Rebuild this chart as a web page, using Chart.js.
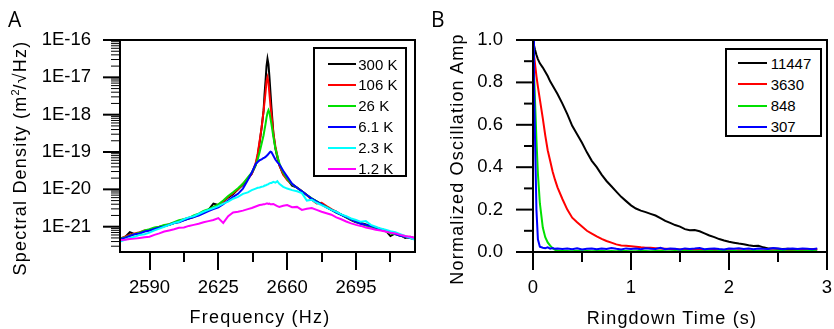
<!DOCTYPE html>
<html><head><meta charset="utf-8">
<script src="https://cdn.jsdelivr.net/npm/chart.js@4.4.1/dist/chart.umd.min.js"></script>
<style>
html,body{margin:0;padding:0;background:#fff;}
#wrap{position:relative;width:834px;height:329px;overflow:hidden;font-family:'Liberation Sans',Arial,sans-serif;color:#000;background:#fff;}
canvas{position:absolute;top:0;}
.ttl{position:absolute;font-size:18px;line-height:1;letter-spacing:1.2px;white-space:nowrap;}
.panel{position:absolute;font-family:'Open Sans',sans-serif;font-size:21px;line-height:1;}
.legend{position:absolute;border:2px solid #000;background:#fff;box-sizing:border-box;font-size:15px;}
.legend .row{display:flex;align-items:center;position:absolute;height:20px;}
.legend .sw{display:inline-block;height:2px;}
.legend .tx{line-height:1;white-space:nowrap;}
.sup{font-size:11px;position:relative;top:-7px;letter-spacing:0;}
</style>
</head><body>
<div id="wrap">
  <canvas id="cA" width="420" height="329" style="left:0;width:420px;height:329px"></canvas>
  <canvas id="cB" width="414" height="329" style="left:420px;width:414px;height:329px"></canvas>
  <div class="panel" style="left:8px;top:8.5px">A</div>
  <div class="panel" style="left:431px;top:8.5px">B</div>
  <div class="ttl" style="left:20px;top:157.5px;transform:translate(-50%,-50%) rotate(-90deg)">Spectral Density (m<span class="sup">2</span>/√Hz)</div>
  <div class="ttl" style="left:260px;top:308px;transform:translateX(-50%)">Frequency (Hz)</div>
  <div class="ttl" style="left:456.7px;top:159px;transform:translate(-50%,-50%) rotate(-90deg)">Normalized Oscillation Amp</div>
  <div class="ttl" style="left:672px;top:309px;transform:translateX(-50%)">Ringdown Time (s)</div>
  <div id="legA" class="legend" style="left:313px;top:47px;width:94px;height:130px"></div>
  <div id="legB" class="legend" style="left:724.5px;top:47.5px;width:97px;height:89px"></div>
</div>
<script>
// ---------------- Panel A data: spectral density vs frequency ----------------
const freqHz = [2575, 2577.5, 2580, 2582.5, 2585, 2587.5, 2590, 2592.5, 2595, 2597.5, 2600, 2602.5, 2605, 2607.5, 2610, 2612.5, 2615, 2617.5, 2620, 2622.5, 2625, 2627.5, 2630, 2632.5, 2635, 2637.5, 2640,
  2642, 2644, 2645, 2646, 2647, 2648, 2648.5, 2649, 2649.5, 2650, 2650.5, 2651, 2651.5, 2652, 2653, 2654, 2655, 2656, 2658, 2660,
  2662.5, 2665, 2667.5, 2670, 2672.5, 2675, 2677.5, 2680, 2682.5, 2685, 2687.5, 2690, 2692.5, 2695, 2697.5, 2700, 2702.5, 2705, 2707.5, 2710, 2712.5, 2715, 2717.5, 2720, 2722.5, 2725];

const psd300K = [4.9e-22, 5.25e-22, 7.1e-22, 6.3e-22, 6.8e-22, 7.6e-22, 8.1e-22, 8.9e-22, 9.5e-22, 1.05e-21, 1.12e-21, 1.26e-21, 1.35e-21, 1.51e-21, 1.66e-21, 1.82e-21, 2.14e-21, 2.4e-21, 2.82e-21, 4.17e-21, 3.8e-21, 4.68e-21, 6.03e-21, 7.41e-21, 1e-20, 1.32e-20, 1.91e-20,
  2.63e-20, 4.47e-20, 7.94e-20, 1.78e-19, 4.47e-19, 1.26e-18, 3.55e-18, 7.94e-18, 2.0e-17, 3.16e-17, 2.24e-17, 1e-17, 3.98e-18, 1.58e-18, 3.16e-19, 1.26e-19, 7.08e-20, 4.47e-20, 2.51e-20, 1.91e-20,
  1.26e-20, 1.12e-20, 8.91e-21, 7.08e-21, 5.62e-21, 4.79e-21, 3.98e-21, 3.39e-21, 2.82e-21, 2.51e-21, 2.09e-21, 1.78e-21, 1.51e-21, 1.32e-21, 1.26e-21, 1.15e-21, 1.05e-21, 9.55e-22, 8.71e-22, 7.94e-22, 5.62e-22, 6.61e-22, 6.03e-22, 5.01e-22, 5.37e-22, 4.9e-22];

const psd106K = [4.68e-22, 5.37e-22, 6.03e-22, 6.61e-22, 7.08e-22, 7.94e-22, 8.32e-22, 9.12e-22, 1e-21, 1.07e-21, 1.17e-21, 1.26e-21, 1.41e-21, 1.58e-21, 1.74e-21, 1.91e-21, 2.09e-21, 2.4e-21, 2.82e-21, 3.31e-21, 3.8e-21, 4.68e-21, 6.31e-21, 7.94e-21, 1e-20, 1.41e-20, 1.91e-20,
  2.63e-20, 5.01e-20, 8.91e-20, 2.0e-19, 4.47e-19, 1.26e-18, 2.24e-18, 3.98e-18, 7.94e-18, 1e-17, 7.08e-18, 3.55e-18, 1.78e-18, 1e-18, 3.16e-19, 1.41e-19, 7.94e-20, 4.47e-20, 2.51e-20, 1.78e-20,
  1.38e-20, 1.12e-20, 8.91e-21, 7.08e-21, 5.25e-21, 4.17e-21, 4.37e-21, 3.55e-21, 2.95e-21, 2.51e-21, 2.09e-21, 1.82e-21, 1.58e-21, 1.38e-21, 1.2e-21, 1.1e-21, 1e-21, 9.33e-22, 8.32e-22, 7.59e-22, 7.08e-22, 6.31e-22, 5.75e-22, 5.37e-22, 5.01e-22, 4.68e-22];

const psd26K = [4.79e-22, 5.13e-22, 5.75e-22, 6.31e-22, 6.92e-22, 7.94e-22, 8.51e-22, 9.55e-22, 1e-21, 1.12e-21, 1.17e-21, 1.32e-21, 1.48e-21, 1.58e-21, 1.7e-21, 2.0e-21, 2.24e-21, 2.63e-21, 2.95e-21, 3.39e-21, 3.98e-21, 5.01e-21, 6.61e-21, 8.32e-21, 1.07e-20, 1.41e-20, 2.09e-20,
  2.82e-20, 4.47e-20, 6.31e-20, 1e-19, 1.66e-19, 2.82e-19, 3.98e-19, 5.62e-19, 8.32e-19, 1.12e-18, 1.32e-18, 1.12e-18, 7.94e-19, 5.62e-19, 2.51e-19, 1.26e-19, 7.94e-20, 5.01e-20, 2.82e-20, 1.91e-20,
  1.38e-20, 1.1e-20, 8.91e-21, 7.08e-21, 5.75e-21, 4.79e-21, 3.98e-21, 3.39e-21, 2.82e-21, 2.4e-21, 2.09e-21, 1.78e-21, 1.58e-21, 1.35e-21, 1.2e-21, 1.07e-21, 1e-21, 8.91e-22, 8.32e-22, 7.59e-22, 6.61e-22, 6.31e-22, 5.75e-22, 5.37e-22, 5.01e-22, 4.68e-22];

const psd6K = [4.68e-22, 5.01e-22, 5.62e-22, 6.31e-22, 6.61e-22, 7.41e-22, 7.94e-22, 8.71e-22, 9.55e-22, 1.02e-21, 1.12e-21, 1.26e-21, 1.32e-21, 1.48e-21, 1.66e-21, 1.82e-21, 2.0e-21, 2.29e-21, 2.63e-21, 2.95e-21, 3.31e-21, 3.98e-21, 5.01e-21, 6.31e-21, 7.59e-21, 1.05e-20, 1.78e-20,
  2.82e-20, 4.79e-20, 5.37e-20, 6.03e-20, 6.31e-20, 6.92e-20, 7.08e-20, 7.41e-20, 7.76e-20, 8.32e-20, 8.91e-20, 9.55e-20, 1.02e-19, 1e-19, 7.94e-20, 6.31e-20, 5.37e-20, 4.68e-20, 3.16e-20, 2.19e-20,
  1.41e-20, 1.1e-20, 8.91e-21, 7.08e-21, 5.62e-21, 4.68e-21, 3.98e-21, 3.31e-21, 2.82e-21, 2.4e-21, 2.09e-21, 1.82e-21, 1.58e-21, 1.35e-21, 1.2e-21, 1.12e-21, 1.05e-21, 9.55e-22, 8.51e-22, 7.94e-22, 7.08e-22, 6.31e-22, 5.75e-22, 5.37e-22, 5.01e-22, 4.79e-22];

const psd2K = [3.98e-22, 4.47e-22, 5.01e-22, 5.37e-22, 6.03e-22, 6.31e-22, 6.92e-22, 7.94e-22, 8.91e-22, 1e-21, 1.12e-21, 1.26e-21, 1.35e-21, 1.58e-21, 1.78e-21, 1.91e-21, 2.19e-21, 2.51e-21, 2.82e-21, 3.16e-21, 3.55e-21, 4.17e-21, 4.68e-21, 5.62e-21, 6.31e-21, 7.59e-21, 8.32e-21,
  9.55e-21, 1.05e-20, 1.1e-20, 1.12e-20, 1.17e-20, 1.2e-20, 1.26e-20, 1.26e-20, 1.32e-20, 1.35e-20, 1.38e-20, 1.45e-20, 1.48e-20, 1.48e-20, 1.58e-20, 1.51e-20, 1.66e-20, 1.41e-20, 1.17e-20, 1.05e-20,
  9.55e-21, 8.91e-21, 7.94e-21, 5.01e-21, 5.25e-21, 4.37e-21, 3.8e-21, 3.31e-21, 2.82e-21, 2.51e-21, 2.14e-21, 1.91e-21, 1.66e-21, 1.51e-21, 1.35e-21, 1.41e-21, 1.12e-21, 1e-21, 8.91e-22, 8.32e-22, 7.59e-22, 7.08e-22, 6.31e-22, 5.62e-22, 5.01e-22, 4.47e-22];

const psd1K = [4.37e-22, 4.47e-22, 4.68e-22, 4.79e-22, 5.01e-22, 5.25e-22, 5.37e-22, 6.03e-22, 6.61e-22, 7.41e-22, 7.94e-22, 8.51e-22, 9.33e-22, 9.55e-22, 1.05e-21, 1.12e-21, 1.2e-21, 1.32e-21, 1.41e-21, 1.51e-21, 1.7e-21, 1.26e-21, 1.91e-21, 2.4e-21, 2.51e-21, 2.69e-21, 2.95e-21,
  3.16e-21, 3.47e-21, 3.63e-21, 3.8e-21, 3.89e-21, 3.98e-21, 3.98e-21, 4.07e-21, 4.17e-21, 4.17e-21, 4.07e-21, 4.17e-21, 3.98e-21, 3.98e-21, 4.07e-21, 3.8e-21, 3.55e-21, 3.39e-21, 3.63e-21, 3.8e-21,
  3.31e-21, 3.39e-21, 2.82e-21, 3.02e-21, 3.16e-21, 2.82e-21, 2.51e-21, 2.29e-21, 2.09e-21, 1.78e-21, 1.58e-21, 1.38e-21, 1.23e-21, 1.12e-21, 1.05e-21, 9.55e-22, 8.91e-22, 8.32e-22, 7.94e-22, 7.41e-22, 6.92e-22, 6.61e-22, 6.03e-22, 5.62e-22, 5.37e-22, 5.01e-22];

const tempLabels = ['300 K', '106 K', '26 K', '6.1 K', '2.3 K', '1.2 K'];
const psdMajorTicks = [1e-21, 1e-20, 1e-19, 1e-18, 1e-17, 1e-16];
const psdTickLabels = ['1E-21', '1E-20', '1E-19', '1E-18', '1E-17', '1E-16'];
const freqMajorTicks = [2590, 2625, 2660, 2695];
const freqMinorTicks = [2607.5, 2642.5, 2677.5, 2712.5];
const freqTickLabels = ['2590', '2625', '2660', '2695'];

// ---------------- Panel B data: ringdown ----------------
const timeS = [0, 0.01, 0.02, 0.035, 0.05, 0.07, 0.1, 0.125, 0.15, 0.175, 0.2, 0.225, 0.25, 0.3,
  0.35, 0.4, 0.45, 0.5, 0.55, 0.6, 0.65, 0.7, 0.75, 0.8, 0.85, 0.9, 0.95, 1.0, 1.05, 1.1, 1.15, 1.2, 1.25, 1.3, 1.35, 1.4, 1.45, 1.5, 1.55, 1.6, 1.65, 1.7, 1.75, 1.8, 1.85, 1.9, 1.95, 2.0, 2.05, 2.1, 2.15, 2.2, 2.25, 2.3, 2.35, 2.4, 2.45, 2.5, 2.55, 2.6, 2.65, 2.7, 2.75, 2.8, 2.85, 2.9];

const ampQ11447 = [1.0, 0.975, 0.955, 0.93, 0.91, 0.89, 0.87, 0.85, 0.83, 0.805, 0.785, 0.765, 0.745, 0.7,
  0.65, 0.595, 0.555, 0.515, 0.47, 0.43, 0.4, 0.365, 0.335, 0.31, 0.285, 0.26, 0.24, 0.22, 0.205, 0.195, 0.188, 0.18, 0.172, 0.16, 0.147, 0.137, 0.127, 0.12, 0.108, 0.103, 0.104, 0.098, 0.088, 0.078, 0.07, 0.061, 0.054, 0.048, 0.044, 0.04, 0.037, 0.032, 0.028, 0.029, 0.022, 0.017, 0.016, 0.015, 0.014, 0.015, 0.013, 0.014, 0.013, 0.012, 0.013, 0.012];

const ampQ3630 = [0.98, 0.93, 0.89, 0.83, 0.78, 0.72, 0.63, 0.55, 0.48, 0.43, 0.38, 0.34, 0.305, 0.25,
  0.2, 0.162, 0.14, 0.12, 0.1, 0.087, 0.074, 0.062, 0.052, 0.044, 0.036, 0.031, 0.029, 0.027, 0.025, 0.022, 0.02, 0.02, 0.018, 0.016, 0.015, 0.014, 0.013, 0.012, 0.012, 0.011, 0.011, 0.01, 0.01, 0.009, 0.009, 0.008, 0.008, 0.008, 0.007, 0.008, 0.007, 0.007, 0.006, 0.006, 0.006, 0.007, 0.006, 0.006, 0.005, 0.006, 0.006, 0.008, 0.01, 0.012, 0.013, 0.014];

const ampQ848 = [0.97, 0.85, 0.72, 0.53, 0.37, 0.23, 0.115, 0.07, 0.045, 0.03, 0.018, 0.01, 0.007, 0.005,
  0.005, 0.004, 0.006, 0.004, 0.005, 0.003, 0.005, 0.006, 0.004, 0.005, 0.004, 0.006, 0.005, 0.003, 0.004, 0.006, 0.005, 0.004, 0.005, 0.006, 0.004, 0.003, 0.005, 0.004, 0.006, 0.005, 0.004, 0.005, 0.003, 0.006, 0.004, 0.005, 0.005, 0.004, 0.006, 0.004, 0.005, 0.003, 0.005, 0.006, 0.004, 0.005, 0.004, 0.006, 0.005, 0.004, 0.003, 0.005, 0.004, 0.006, 0.005, 0.004];

const ampQ307 = [1.0, 0.8, 0.55, 0.2, 0.06, 0.025, 0.02, 0.018, 0.022, 0.016, 0.019, 0.015, 0.017, 0.014,
  0.016, 0.013, 0.018, 0.012, 0.015, 0.017, 0.013, 0.016, 0.014, 0.019, 0.015, 0.012, 0.017, 0.014, 0.016, 0.013, 0.018, 0.015, 0.014, 0.02, 0.013, 0.016, 0.015, 0.012, 0.017, 0.014, 0.016, 0.019, 0.013, 0.015, 0.017, 0.014, 0.012, 0.016, 0.015, 0.018, 0.014, 0.016, 0.013, 0.017, 0.015, 0.014, 0.019, 0.016, 0.013, 0.015, 0.017, 0.014, 0.016, 0.015, 0.013, 0.016];

const qLabels = ['11447', '3630', '848', '307'];
const timeMajorTicks = [0, 1, 2, 3];
const timeMinorTicks = [0.5, 1.5, 2.5];
const timeTickLabels = ['0', '1', '2', '3'];
const ampMajorTicks = [0, 0.2, 0.4, 0.6, 0.8, 1.0];
const ampMinorTicks = [0.1, 0.3, 0.5, 0.7, 0.9];
const ampTickLabels = ['0.0', '0.2', '0.4', '0.6', '0.8', '1.0'];

// ---------------- styles ----------------
const colorsA = ['#000000', '#ff0000', '#00e000', '#0000ff', '#00ffff', '#ff00ff'];
const colorsB = ['#000000', '#ff0000', '#00e000', '#0000ff'];
const FONT = "'Liberation Sans', Arial, sans-serif";
Chart.defaults.font.family = FONT;
Chart.defaults.color = '#000';

const near = (a, b) => a === b || Math.abs(a - b) <= Math.max(Math.abs(a), Math.abs(b)) * 1e-9;

// frame + outward ticks (major long, minor short) drawn through the chart's scales
const frameTicks = {
  id: 'frameTicks',
  afterDatasetsDraw(chart, args, o) {
    const {ctx, chartArea: a} = chart;
    const xs = chart.scales.x, ys = chart.scales.y;
    ctx.save();
    ctx.strokeStyle = '#000';
    ctx.lineCap = 'butt';
    for (const t of xs.ticks) {
      const px = Math.round(xs.getPixelForValue(t.value));
      const major = o.xMajor.some(m => near(t.value, m));
      ctx.lineWidth = 2;
      ctx.beginPath(); ctx.moveTo(px, a.bottom); ctx.lineTo(px, a.bottom + (major ? o.xMajorLen : o.xMinorLen)); ctx.stroke();
    }
    for (const t of ys.ticks) {
      const py = ys.getPixelForValue(t.value);
      const major = o.yMajor.some(m => near(t.value, m));
      ctx.lineWidth = major ? 2 : o.yMinorWidth;
      ctx.beginPath(); ctx.moveTo(a.left - (major ? o.yMajorLen : o.yMinorLen), py); ctx.lineTo(a.left, py); ctx.stroke();
    }
    ctx.lineWidth = 2;
    ctx.strokeRect(a.left, a.top, a.right - a.left, a.bottom - a.top);
    ctx.restore();
  }
};
const fitX = s => { s.height = 77; s.paddingLeft = 0; s.paddingRight = 0; };
const fitY = w => s => { s.width = w; s.paddingTop = 0; s.paddingBottom = 0; };

// ---------------- Chart A ----------------
const psdSeries = [psd300K, psd106K, psd26K, psd6K, psd2K, psd1K];
const psdMin = 2.1e-22, psdMax = 1e-16;
const psdMinorTicks = [];
for (let e = -22; e <= -17; e++) for (let m = 2; m <= 9; m++) {
  const v = m * Math.pow(10, e);
  if (v >= psdMin && v <= psdMax) psdMinorTicks.push(v);
}

new Chart(document.getElementById('cA'), {
  type: 'line',
  data: {
    datasets: psdSeries.map((vals, i) => ({
      label: tempLabels[i],
      data: freqHz.map((f, j) => ({x: f, y: vals[j]})),
      borderColor: colorsA[i], borderWidth: 2, pointRadius: 0, fill: false, tension: 0,
      order: psdSeries.length - i
    }))
  },
  options: {
    responsive: false, animation: false, devicePixelRatio: 1,
    layout: {padding: {left: 0, top: 40, right: 5, bottom: 0}},
    plugins: {legend: {display: false}, tooltip: {enabled: false},
      frameTicks: {xMajor: freqMajorTicks, yMajor: psdMajorTicks, xMajorLen: 18, xMinorLen: 10, yMajorLen: 17, yMinorLen: 9, yMinorWidth: 1}},
    scales: {
      x: {
        type: 'linear', min: 2575, max: 2725,
        grid: {display: false, drawTicks: false}, border: {display: false},
        afterBuildTicks: s => { s.ticks = [...freqMajorTicks, ...freqMinorTicks].sort((a, b) => a - b).map(v => ({value: v})); },
        afterFit: fitX,
        ticks: {autoSkip: false, maxRotation: 0, minRotation: 0, padding: 25, font: {size: 18.5}, color: '#000',
          callback: v => { const k = freqMajorTicks.findIndex(m => near(v, m)); return k >= 0 ? freqTickLabels[k] : ''; }}
      },
      y: {
        type: 'logarithmic', min: psdMin, max: psdMax,
        grid: {display: false, drawTicks: false}, border: {display: false},
        afterBuildTicks: s => { s.ticks = [...psdMajorTicks, ...psdMinorTicks].sort((a, b) => a - b).map(v => ({value: v})); },
        afterFit: fitY(120),
        ticks: {autoSkip: false, padding: 29, font: {size: 18.5}, color: '#000',
          callback: v => { const k = psdMajorTicks.findIndex(m => near(v, m)); return k >= 0 ? psdTickLabels[k] : ''; }}
      }
    }
  },
  plugins: [frameTicks]
});

// ---------------- Chart B ----------------
const ampSeries = [ampQ11447, ampQ3630, ampQ848, ampQ307];
new Chart(document.getElementById('cB'), {
  type: 'line',
  data: {
    datasets: ampSeries.map((vals, i) => ({
      label: qLabels[i],
      data: timeS.map((t, j) => ({x: t, y: vals[j]})),
      borderColor: colorsB[i], borderWidth: 2, pointRadius: 0, fill: false, tension: 0,
      order: ampSeries.length - i
    }))
  },
  options: {
    responsive: false, animation: false, devicePixelRatio: 1,
    layout: {padding: {left: 0, top: 40, right: 7, bottom: 0}},
    plugins: {legend: {display: false}, tooltip: {enabled: false},
      frameTicks: {xMajor: timeMajorTicks, yMajor: ampMajorTicks, xMajorLen: 18, xMinorLen: 10, yMajorLen: 17, yMinorLen: 9, yMinorWidth: 2}},
    scales: {
      x: {
        type: 'linear', min: 0, max: 3,
        grid: {display: false, drawTicks: false}, border: {display: false},
        afterBuildTicks: s => { s.ticks = [...timeMajorTicks, ...timeMinorTicks].sort((a, b) => a - b).map(v => ({value: v})); },
        afterFit: fitX,
        ticks: {autoSkip: false, maxRotation: 0, minRotation: 0, padding: 25, font: {size: 18.5}, color: '#000',
          callback: v => { const k = timeMajorTicks.findIndex(m => near(v, m)); return k >= 0 ? timeTickLabels[k] : ''; }}
      },
      y: {
        type: 'linear', min: 0, max: 1,
        grid: {display: false, drawTicks: false}, border: {display: false},
        afterBuildTicks: s => { s.ticks = [...ampMajorTicks, ...ampMinorTicks].sort((a, b) => a - b).map(v => ({value: v})); },
        afterFit: fitY(113),
        ticks: {autoSkip: false, padding: 30, font: {size: 18.5}, color: '#000',
          callback: v => { const k = ampMajorTicks.findIndex(m => near(v, m)); return k >= 0 ? ampTickLabels[k] : ''; }}
      }
    }
  },
  plugins: [frameTicks]
});

// ---------------- HTML legends ----------------
function buildLegend(el, labels, colors, c) {
  labels.forEach((lab, i) => {
    const row = document.createElement('div');
    row.className = 'row';
    row.style.left = c.swLeft + 'px';
    row.style.top = (c.first + i * c.step - 10) + 'px';
    const sw = document.createElement('span');
    sw.className = 'sw';
    sw.style.width = c.swW + 'px';
    sw.style.background = colors[i];
    sw.style.marginRight = c.gap + 'px';
    const tx = document.createElement('span');
    tx.className = 'tx';
    tx.textContent = lab;
    row.append(sw, tx);
    el.append(row);
  });
}
buildLegend(document.getElementById('legA'), tempLabels, colorsA, {first: 15, step: 20.9, swLeft: 12.7, swW: 28, gap: 2.6});
buildLegend(document.getElementById('legB'), qLabels, colorsB, {first: 13.8, step: 21.1, swLeft: 11.8, swW: 29, gap: 3.4});
</script>
</body></html>
